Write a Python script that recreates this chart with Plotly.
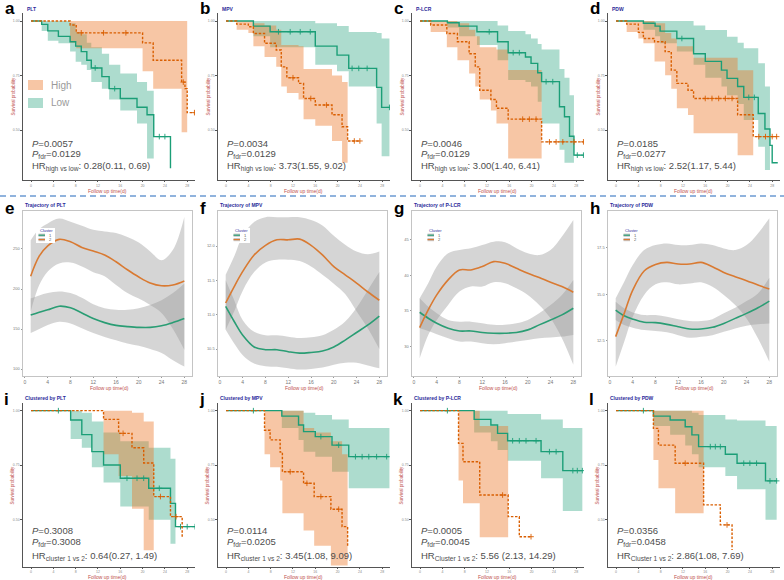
import plotly.graph_objects as go

W, H = 784, 580
FONT = "Liberation Sans, Arial, Helvetica, sans-serif"

# ---------------- shared ticks / labels ----------------
km_xticks = [0, 4, 8, 12, 16, 20, 24, 28]
km_yticks = [0.5, 0.75, 1.0]
km_yticktext = ["0.50", "0.75", "1.00"]
traj_xticks = [0, 4, 8, 12, 16, 20, 24, 28]
traj_t = [1, 2.5, 4, 6, 8, 10, 12, 14, 16, 18, 20, 22, 24, 26, 28]

row1_titles = ["PLT", "MPV", "P-LCR", "PDW"]
row2_titles = ["Trajectory of PLT", "Trajectory of MPV", "Trajectory of P-LCR", "Trajectory of PDW"]
row3_titles = ["Clustered by PLT", "Clustered by MPV", "Clustered by P-LCR", "Clustered by PDW"]
letters = ["a", "b", "c", "d", "e", "f", "g", "h", "i", "j", "k", "l"]

p_values = ["0.0057", "0.0034", "0.0046", "0.0185", "0.3008", "0.0114", "0.0005", "0.0356"]
p_fdr = ["0.0129", "0.0129", "0.0129", "0.0277", "0.3008", "0.0205", "0.0045", "0.0458"]
hr_labels = ["high vs low"] * 4 + ["cluster 1 vs 2", "cluster 1 vs 2", "Cluster 1 vs 2", "Cluster 1 vs 2"]
hr_values = ["0.28(0.11, 0.69)", "3.73(1.55, 9.02)", "3.00(1.40, 6.41)", "2.52(1.17, 5.44)",
             "0.64(0.27, 1.49)", "3.45(1.08, 9.09)", "5.56 (2.13, 14.29)", "2.86(1.08, 7.69)"]

# ---------------- KM data: time, survival, CI lower, CI upper, censor times ----------------
a_low_t = [0, 1.9, 3.0, 4.9, 7.0, 8.0, 9.0, 10.0, 10.8, 12.7, 14.0, 16.0, 19.0, 20.8, 22.0, 25.0]
a_low_s = [1, .985, .955, .93, .905, .885, .86, .82, .785, .745, .69, .645, .605, .57, .47, .325]
a_low_lo = [1, .955, .91, .898, .86, .813, .80, .775, .72, .69, .64, .59, .53, .37, None, None]
a_low_hi = [1, 1, 1, 1, .99, .95, .94, .90, .88, .85, .80, .76, .72, .68, None, None]
a_low_cens = [11.5, 15.0, 23.0, 24.0]
a_high_t = [0, 7.0, 8.1, 20.0, 21.9, 27.0, 27.6, 28.0, 29.3]
a_high_s = [1, .982, .946, .90, .82, .72, .69, .58, .58]
a_high_lo = [1, .90, .875, .77, .69, .49, .49, None, None]
a_high_hi = [1, 1, 1, 1, 1, 1, 1, None, None]
a_high_cens = [9.0, 13.0, 17.0, 27.3, 29.3]

b_low_t = [0, 4.9, 7.9, 16.0, 19.9, 22.0, 27.0, 27.9, 29.3]
b_low_s = [1, .977, .951, .885, .844, .783, .696, .604, .604]
b_low_lo = [1, .93, .88, .80, .77, .70, .53, .38, None]
b_low_hi = [1, 1, 1, .99, .977, .95, .945, .92, None]
b_low_cens = [9.4, 11.5, 13.3, 15.1, 22.6, 23.8, 25.3, 29.3]
b_high_t = [0, 1.9, 4.0, 4.9, 6.9, 9.0, 9.9, 10.9, 13.0, 13.9, 16.0, 19.0, 20.8, 21.8, 24.0]
b_high_s = [1, .986, .974, .943, .898, .867, .79, .74, .714, .645, .615, .57, .515, .45, .45]
b_high_lo = [1, .96, .945, .885, .835, .79, .70, .67, .64, .55, .52, .45, .35, None, None]
b_high_hi = [1, 1, 1, .99, .98, .96, .89, .89, .885, .78, .78, .75, .72, None, None]
b_high_cens = [12.0, 15.2, 18.0, 23.0, 24.0]

c_low_t = [0, 4.9, 7.0, 10.2, 13.9, 15.8, 18.9, 19.9, 21.1, 21.8, 25.0, 25.9, 26.8, 27.6, 29.3]
c_low_s = [1, .992, .977, .951, .905, .855, .835, .806, .763, .722, .607, .561, .472, .385, .385]
c_low_lo = [1, .97, .93, .89, .82, .73, .72, .70, .63, .53, .41, .35, .35, None, None]
c_low_hi = [1, 1, 1, 1, .98, .955, .94, .92, .895, .87, .78, .74, .66, None, None]
c_low_cens = [12.4, 16.7, 17.8, 22.6, 23.8, 28.2, 29.3]
c_high_t = [0, 1.9, 4.8, 6.7, 8.8, 9.9, 10.7, 12.7, 13.7, 15.8, 21.8, 29.3]
c_high_s = [1, .982, .943, .905, .85, .79, .683, .64, .60, .55, .446, .446]
c_high_lo = [1, .95, .88, .82, .76, .70, .64, .59, .53, .37, None, None]
c_high_hi = [1, 1, 1, .99, .96, .93, .88, .88, .87, .775, None, None]
c_high_cens = [18.4, 19.6, 20.8, 23.2, 24.4, 25.6, 27.6, 29.3]

d_low_t = [0, 4.9, 7.0, 7.9, 10.9, 13.9, 16.0, 18.9, 19.9, 21.8, 22.9, 25.5, 26.7, 27.6, 28.0, 29.0]
d_low_s = [1, .99, .977, .954, .92, .85, .815, .775, .737, .70, .65, .576, .505, .43, .35, .35]
d_low_lo = [1, .96, .93, .898, .86, .80, .74, .70, .66, .62, .546, .424, .317, None, None, None]
d_low_hi = [1, 1, 1, 1, 1, .98, .959, .959, .928, .90, .875, .806, .70, None, None, None]
d_low_cens = [11.8, 23.8, 24.8]
d_high_t = [0, 1.9, 4.0, 4.9, 6.9, 8.8, 9.9, 10.9, 12.9, 13.9, 21.8, 24.6, 28.8]
d_high_s = [1, .986, .948, .92, .905, .86, .775, .714, .683, .645, .57, .47, .47]
d_high_lo = [1, .95, .92, .898, .814, .752, .69, .60, .569, .485, .385, None, None]
d_high_hi = [1, 1, 1, 1, .99, .945, .92, .885, .885, .832, .774, None, None]
d_high_cens = [16.0, 17.2, 18.4, 19.6, 20.8, 25.6, 26.8, 28.0, 28.8]

i_c1_t = [0, 7.1, 9.1, 10.9, 13.0, 16.0, 21.1, 25.0, 25.9, 29.4]
i_c1_s = [1, .957, .89, .812, .751, .69, .644, .575, .468, .468]
i_c1_lo = [1, .87, .83, .74, .67, .56, .50, .39, None, None]
i_c1_hi = [1, 1, .99, .95, .90, .86, .83, .78, None, None]
i_c1_cens = [4.9, 17.2, 19.0, 20.2, 23.0, 26.8, 28.0, 29.4]
i_c2_t = [0, 13.0, 15.7, 18.1, 20.2, 22.0, 25.0, 27.1]
i_c2_s = [1, .96, .896, .83, .76, .606, .514, .42]
i_c2_lo = [1, .80, .70, .55, .36, None, None, None]
i_c2_hi = [1, 1, 1, .99, .95, None, None, None]
i_c2_cens = [16.5, 23.2, 26.0]

j_c1_t = [0, 10.0, 13.0, 13.9, 16.0, 19.0, 22.0, 29.3]
j_c1_s = [1, .975, .934, .904, .881, .842, .789, .789]
j_c1_lo = [1, .92, .866, .812, .789, .72, .644, None]
j_c1_hi = [1, 1, 1, .99, .98, .96, .92, None]
j_c1_cens = [4.9, 17.0, 20.2, 23.2, 24.4, 25.6, 27.0, 28.8]
j_c2_t = [0, 6.9, 7.9, 9.7, 10.1, 13.9, 15.8, 18.8, 20.8, 21.8]
j_c2_s = [1, .91, .866, .81, .72, .667, .606, .548, .468, .377]
j_c2_lo = [1, .80, .74, .68, .53, .45, .38, .29, .29, None]
j_c2_hi = [1, 1, 1, 1, 1, .92, .90, .86, .80, None]
j_c2_cens = [11.5, 14.5, 17.0, 20.2]

k_c1_t = [0, 9.7, 12.7, 13.9, 15.7, 21.7, 25.6, 29.1]
k_c1_s = [1, .96, .934, .896, .862, .812, .725, .725]
k_c1_lo = [1, .90, .86, .82, .77, .69, .54, None]
k_c1_hi = [1, 1, 1, 1, .985, .96, .92, None]
k_c1_cens = [4.9, 16.6, 17.8, 19.0, 20.8, 23.2, 24.4, 27.4, 28.2, 29.1]
k_c2_t = [0, 6.9, 7.7, 10.7, 15.8, 17.8, 19.9]
k_c2_s = [1, .85, .766, .613, .514, .422, .422]
k_c2_lo = [1, .68, .575, .42, None, None, None]
k_c2_hi = [1, 1, 1, .93, None, None, None]
k_c2_cens = [14.8, 19.9]

l_c1_t = [0, 6.7, 9.7, 12.4, 13.6, 14.8, 19.6, 21.7, 26.8, 28.8]
l_c1_s = [1, .975, .957, .926, .889, .835, .80, .759, .678, .678]
l_c1_lo = [1, .93, .89, .84, .80, .74, .70, .64, .50, None]
l_c1_hi = [1, 1, 1, 1, .99, .98, .96, .955, .93, None]
l_c1_cens = [4.9, 16.9, 17.8, 18.7, 22.9, 24.0, 25.2, 27.6, 28.8]
l_c2_t = [0, 6.7, 7.6, 10.6, 15.7, 18.7, 20.8]
l_c2_s = [1, .919, .842, .759, .568, .476, .361]
l_c2_lo = [1, .774, .644, .53, None, None, None]
l_c2_hi = [1, 1, 1, 1, None, None, None]
l_c2_cens = [12.4, 19.9]

# ---------------- trajectory data (cluster 1 = green, cluster 2 = orange) ----------------
e_c1_mean = [167.5, 171, 174, 178.5, 176.5, 170, 163, 158, 154.5, 153, 152, 152, 154, 158, 163]
e_c1_lo = [145, 150, 155, 159, 157, 151, 145, 140, 136, 132, 129, 125, 120, 111, 103]
e_c1_hi = [188, 192, 195, 197, 195, 189, 181, 176, 174, 174, 176, 180, 186, 195, 207]
e_c2_mean = [216, 241, 254, 262, 259, 252, 247.5, 242.5, 234, 224, 215, 207.5, 204, 205, 210]
e_c2_lo = [172, 205, 222, 232, 233, 228, 221, 216, 205, 195, 188, 180, 170, 150, 124]
e_c2_hi = [261, 275, 282, 288, 284, 279, 274, 272, 270, 265, 258, 247, 236, 249, 290]

f_c1_mean = [11.12, 10.90, 10.70, 10.53, 10.49, 10.49, 10.46, 10.44, 10.45, 10.47, 10.53, 10.63, 10.74, 10.85, 10.98]
f_c1_lo = [10.78, 10.58, 10.41, 10.29, 10.25, 10.24, 10.22, 10.20, 10.21, 10.23, 10.27, 10.30, 10.30, 10.26, 10.22]
f_c1_hi = [11.50, 11.21, 10.92, 10.75, 10.70, 10.70, 10.68, 10.66, 10.67, 10.70, 10.78, 10.90, 11.10, 11.36, 11.62]
f_c2_mean = [11.17, 11.41, 11.63, 11.87, 12.01, 12.09, 12.09, 12.10, 12.01, 11.87, 11.70, 11.58, 11.46, 11.33, 11.21]
f_c2_lo = [10.78, 11.05, 11.35, 11.62, 11.76, 11.80, 11.80, 11.78, 11.70, 11.58, 11.45, 11.30, 11.05, 10.80, 10.50]
f_c2_hi = [11.58, 11.85, 12.15, 12.35, 12.42, 12.42, 12.42, 12.42, 12.38, 12.30, 12.15, 12.02, 11.92, 11.88, 11.92]

g_c1_mean = [34.81, 33.98, 33.28, 32.58, 32.2, 32.2, 31.98, 31.88, 31.88, 31.98, 32.35, 33.05, 33.74, 34.44, 35.37]
g_c1_lo = [32.58, 32.2, 31.74, 31.19, 30.72, 30.72, 30.49, 30.35, 30.49, 30.72, 30.95, 31.19, 31.28, 31.42, 31.65]
g_c1_hi = [36.77, 35.6, 34.67, 33.74, 33.5, 33.5, 33.28, 33.05, 33.05, 33.28, 33.74, 34.67, 35.84, 37.23, 39.33]
g_c2_mean = [32.67, 35.14, 37.23, 39.33, 40.72, 40.72, 41.19, 41.88, 41.65, 40.95, 40.26, 39.65, 39.0, 38.4, 37.6]
g_c2_lo = [28.4, 31.65, 33.74, 35.84, 37.7, 38.4, 38.4, 39.0, 38.86, 38.16, 37.23, 35.84, 33.98, 31.19, 27.47]
g_c2_hi = [36.77, 38.86, 41.19, 43.05, 43.51, 43.74, 44.2, 44.67, 44.6, 43.74, 43.05, 42.8, 43.5, 45.4, 47.7]

h_c1_mean = [14.15, 13.84, 13.66, 13.49, 13.47, 13.38, 13.25, 13.13, 13.13, 13.22, 13.43, 13.7, 13.97, 14.27, 14.63]
h_c1_lo = [13.61, 13.34, 13.2, 13.07, 13.02, 12.95, 12.8, 12.66, 12.71, 12.8, 12.98, 13.16, 13.31, 13.38, 13.43]
h_c1_hi = [14.6, 14.24, 14.02, 13.88, 13.88, 13.79, 13.66, 13.56, 13.56, 13.66, 13.97, 14.27, 14.63, 15.04, 15.89]
h_c2_mean = [12.72, 13.97, 15.22, 16.25, 16.6, 16.71, 16.62, 16.62, 16.71, 16.48, 16.17, 15.94, 15.73, 15.49, 15.28]
h_c2_lo = [11.1, 12.45, 13.79, 14.96, 15.53, 15.64, 15.53, 15.58, 15.64, 15.4, 14.96, 14.42, 13.7, 12.63, 11.37]
h_c2_hi = [14.78, 15.67, 16.57, 17.37, 17.64, 17.73, 17.64, 17.64, 17.73, 17.64, 17.46, 17.37, 17.64, 18.27, 19.08]

e_yticks, e_ytext, e_range = [100, 150, 200, 250], ["100", "150", "200", "250"], [91.9, 298.1]
f_yticks, f_ytext, f_range = [10.5, 11.0, 11.5, 12.0], ["10.5", "11.0", "11.5", "12.0"], [10.114, 12.517]
g_yticks, g_ytext, g_range = [30, 35, 40, 45], ["30", "35", "40", "45"], [25.98, 49.02]
h_yticks, h_ytext, h_range = [12.5, 15.0, 17.5], ["12.5", "15.0", "17.5"], [10.63, 19.5]

# ---------------- styles ----------------
LINE = {"g": "#1B9E77", "o": "#D95F02"}
BAND = {"g": "rgba(27,158,119,0.36)", "o": "rgba(236,120,40,0.42)"}
DASH = {"g": "solid", "o": "2.5px,1.6px"}
TRAJ_LINE = {"g": "#2A9D74", "o": "#D97A32"}
GREY_BAND = "rgba(150,150,150,0.40)"
AXIS_RED = "#C0504D"
TITLE_BLUE = "#2B2B9A"
COL_OFF = [0, 195, 389, 585]

fig = go.Figure()
layout_axes = {}
shapes = []
annots = []


def fx(px):
    return px / W


def fy(py):
    return 1 - py / H


def axis_names(n):
    if n == 1:
        return "x", "y", "xaxis", "yaxis"
    return f"x{n}", f"y{n}", f"xaxis{n}", f"yaxis{n}"


def step_xy(t, v, t_end):
    xs, ys = [], []
    for i in range(len(t)):
        nxt = t[i + 1] if i + 1 < len(t) else t_end
        xs += [t[i], nxt]
        ys += [v[i], v[i]]
    return xs, ys


def surv_at(t, s, c):
    val = s[0]
    for ti, si in zip(t, s):
        if ti <= c:
            val = si
    return val


def text(x, y, s, size, color="#4D4D4D", xanchor="left", bold=False, angle=0):
    annots.append(dict(x=fx(x), y=fy(y), xref="paper", yref="paper", text=(f"<b>{s}</b>" if bold else s),
                       showarrow=False, xanchor=xanchor, yanchor="middle", textangle=angle,
                       font=dict(size=size, color=color, family=FONT)))


def add_km(n, off, top_px, bottom_px, yrange, groups):
    xa, ya, xk, yk = axis_names(n)
    for (t, s, lo, hi, cens, c) in groups:
        k = lo.index(None) if None in lo else len(lo)
        end = t[k] if k < len(t) else t[-1]
        ux, uy = step_xy(t[:k], hi[:k], end)
        lx, ly = step_xy(t[:k], lo[:k], end)
        fig.add_trace(go.Scatter(x=ux + lx[::-1], y=uy + ly[::-1], fill="toself", fillcolor=BAND[c],
                                 mode="lines", line=dict(width=0), hoverinfo="skip", showlegend=False,
                                 xaxis=xa, yaxis=ya))
    for (t, s, lo, hi, cens, c) in groups:
        fig.add_trace(go.Scatter(x=t, y=s, mode="lines", line=dict(color=LINE[c], width=1.4, dash=DASH[c], shape="hv"),
                                 hoverinfo="skip", showlegend=False, xaxis=xa, yaxis=ya))
        fig.add_trace(go.Scatter(x=cens, y=[surv_at(t, s, cc) for cc in cens], mode="markers",
                                 marker=dict(symbol="cross-thin", size=4, line=dict(color=LINE[c], width=0.9)),
                                 hoverinfo="skip", showlegend=False, xaxis=xa, yaxis=ya))
    common = dict(showline=True, linecolor="#555555", linewidth=0.8, ticks="outside", ticklen=1.5, tickwidth=0.6,
                  tickcolor="#555555", showgrid=False, zeroline=False, fixedrange=True,
                  tickfont=dict(size=3.5, color="#888888", family=FONT))
    layout_axes[xk] = dict(domain=[fx(off + 22.7), fx(off + 195)], anchor=ya, range=[-1.5, 29.4],
                           tickvals=km_xticks, **common)
    layout_axes[yk] = dict(domain=[fy(bottom_px), fy(top_px)], anchor=xa, range=yrange,
                           tickvals=km_yticks, ticktext=km_yticktext, **common)


def add_traj(n, off, yr, yt, ytt, c1, c2):
    xa, ya, xk, yk = axis_names(n)
    for (mean, lo, hi, c) in (c1, c2):
        fig.add_trace(go.Scatter(x=traj_t, y=hi, mode="lines", line=dict(width=0, shape="spline"),
                                 hoverinfo="skip", showlegend=False, xaxis=xa, yaxis=ya))
        fig.add_trace(go.Scatter(x=traj_t, y=lo, mode="lines", line=dict(width=0, shape="spline"),
                                 fill="tonexty", fillcolor=GREY_BAND,
                                 hoverinfo="skip", showlegend=False, xaxis=xa, yaxis=ya))
    for (mean, lo, hi, c) in (c1, c2):
        fig.add_trace(go.Scatter(x=traj_t, y=mean, mode="lines", line=dict(width=1.6, color=TRAJ_LINE[c], shape="spline"),
                                 hoverinfo="skip", showlegend=False, xaxis=xa, yaxis=ya))
    common = dict(showline=True, mirror=True, linecolor="#C4C4C4", linewidth=1, ticks="outside", ticklen=1.5,
                  tickwidth=0.6, tickcolor="#9A9A9A", showgrid=False, zeroline=False, fixedrange=True)
    layout_axes[xk] = dict(domain=[fx(off + 23), fx(off + 192)], anchor=ya, range=[-0.35, 29.35],
                           tickvals=traj_xticks, tickfont=dict(size=5, color="#777777", family=FONT), **common)
    layout_axes[yk] = dict(domain=[fy(375.5), fy(210.5)], anchor=xa, range=yr, tickvals=yt, ticktext=ytt,
                           tickfont=dict(size=4, color="#777777", family=FONT), **common)


km_row1 = [
    [(a_low_t, a_low_s, a_low_lo, a_low_hi, a_low_cens, "g"), (a_high_t, a_high_s, a_high_lo, a_high_hi, a_high_cens, "o")],
    [(b_low_t, b_low_s, b_low_lo, b_low_hi, b_low_cens, "g"), (b_high_t, b_high_s, b_high_lo, b_high_hi, b_high_cens, "o")],
    [(c_low_t, c_low_s, c_low_lo, c_low_hi, c_low_cens, "g"), (c_high_t, c_high_s, c_high_lo, c_high_hi, c_high_cens, "o")],
    [(d_low_t, d_low_s, d_low_lo, d_low_hi, d_low_cens, "g"), (d_high_t, d_high_s, d_high_lo, d_high_hi, d_high_cens, "o")],
]
km_row3 = [
    [(i_c1_t, i_c1_s, i_c1_lo, i_c1_hi, i_c1_cens, "g"), (i_c2_t, i_c2_s, i_c2_lo, i_c2_hi, i_c2_cens, "o")],
    [(j_c1_t, j_c1_s, j_c1_lo, j_c1_hi, j_c1_cens, "g"), (j_c2_t, j_c2_s, j_c2_lo, j_c2_hi, j_c2_cens, "o")],
    [(k_c1_t, k_c1_s, k_c1_lo, k_c1_hi, k_c1_cens, "g"), (k_c2_t, k_c2_s, k_c2_lo, k_c2_hi, k_c2_cens, "o")],
    [(l_c1_t, l_c1_s, l_c1_lo, l_c1_hi, l_c1_cens, "g"), (l_c2_t, l_c2_s, l_c2_lo, l_c2_hi, l_c2_cens, "o")],
]
traj_rows = [
    (e_range, e_yticks, e_ytext, (e_c1_mean, e_c1_lo, e_c1_hi, "g"), (e_c2_mean, e_c2_lo, e_c2_hi, "o")),
    (f_range, f_yticks, f_ytext, (f_c1_mean, f_c1_lo, f_c1_hi, "g"), (f_c2_mean, f_c2_lo, f_c2_hi, "o")),
    (g_range, g_yticks, g_ytext, (g_c1_mean, g_c1_lo, g_c1_hi, "g"), (g_c2_mean, g_c2_lo, g_c2_hi, "o")),
    (h_range, h_yticks, h_ytext, (h_c1_mean, h_c1_lo, h_c1_hi, "g"), (h_c2_mean, h_c2_lo, h_c2_hi, "o")),
]

for col in range(4):
    off = COL_OFF[col]
    # ---- row 1 ----
    add_km(col + 1, off, 13, 180, [0.271, 1.037], km_row1[col])
    # ---- row 2 ----
    yr, yt, ytt, c1, c2 = traj_rows[col]
    add_traj(col + 5, off, yr, yt, ytt, c1, c2)
    # ---- row 3 ----
    add_km(col + 9, off, 402.6, 566.7, [0.2844, 1.037], km_row3[col])

    # letters and titles
    text(off + 3, 8.5, letters[col], 17, "#000000", bold=True)
    text(off + 3, 208.5, letters[col + 4], 17, "#000000", bold=True)
    text(off + 2, 399.5, letters[col + 8], 17, "#000000", bold=True)
    text(off + 25, 8.5, row1_titles[col], 5, TITLE_BLUE, bold=True)
    text(off + 23, 205.5, row2_titles[col], 5, TITLE_BLUE, bold=True)
    text(off + 23, 397.5, row3_titles[col], 5, TITLE_BLUE, bold=True)

    # axis titles
    text(off + 108, 190.5, "Follow up time(d)", 5, AXIS_RED, xanchor="center")
    text(off + 108, 576.5, "Follow up time(d)", 5, AXIS_RED, xanchor="center")
    text(off + 109, 388, "Follow up time(d)", 5, AXIS_RED, xanchor="center")
    text(off + 12.5, 96, "Survival probability", 4.5, AXIS_RED, xanchor="center", angle=-90)
    text(off + 12.5, 485, "Survival probability", 4.5, AXIS_RED, xanchor="center", angle=-90)

    # statistics text
    for k, (y0, idx) in enumerate([(143, col), (530, col + 4)]):
        ys = [y0, y0 + 11.5, y0 + 23.5] if k == 0 else [y0, y0 + 12, y0 + 26]
        text(off + 30, ys[0], f"<i>P</i>={p_values[idx]}", 9.5)
        text(off + 30, ys[1], f"<i>P</i><sub>fdr</sub>={p_fdr[idx]}", 9.5)
        text(off + 30, ys[2], f"HR<sub>{hr_labels[idx]}</sub>: {hr_values[idx]}", 9.5)

    # cluster legend in trajectory panels
    shapes.append(dict(type="rect", xref="paper", yref="paper", x0=fx(off + 36), x1=fx(off + 55),
                       y0=fy(243), y1=fy(228), fillcolor="white", line=dict(width=0), layer="above"))
    text(off + 38, 231, "Cluster", 4, TITLE_BLUE)
    for j, (c, lab, yk) in enumerate([("g", "1", 235.2), ("o", "2", 239.6)]):
        shapes.append(dict(type="rect", xref="paper", yref="paper", x0=fx(off + 38.5), x1=fx(off + 45),
                           y0=fy(yk + 1.6), y1=fy(yk - 1.6), fillcolor="#C8C8C8", line=dict(width=0), layer="above"))
        shapes.append(dict(type="line", xref="paper", yref="paper", x0=fx(off + 38.5), x1=fx(off + 45),
                           y0=fy(yk), y1=fy(yk), line=dict(color=TRAJ_LINE[c], width=1.2), layer="above"))
        text(off + 47, yk, lab, 4, "#555555")

# legend of panel a
shapes.append(dict(type="rect", xref="paper", yref="paper", x0=fx(28), x1=fx(43), y0=fy(90), y1=fy(80),
                   fillcolor=BAND["o"], line=dict(width=0)))
shapes.append(dict(type="rect", xref="paper", yref="paper", x0=fx(28), x1=fx(43), y0=fy(108), y1=fy(98),
                   fillcolor=BAND["g"], line=dict(width=0)))
text(49, 85, "High", 10, "#9A9A9A")
text(49, 103, "Low", 10, "#9A9A9A")

# dashed separator between rows 1 and 2
shapes.append(dict(type="line", xref="paper", yref="paper", x0=0, x1=1, y0=fy(196), y1=fy(196),
                   line=dict(color="#6C9BD2", width=1.5, dash="6px,4px")))

fig.update_layout(width=W, height=H, margin=dict(l=0, r=0, t=0, b=0), paper_bgcolor="white",
                  plot_bgcolor="white", showlegend=False, shapes=shapes, annotations=annots,
                  font=dict(family=FONT), **layout_axes)
fig.write_html("out.html", config={"displayModeBar": False},
               post_script="document.body.style.margin='0';document.body.style.padding='0';")
